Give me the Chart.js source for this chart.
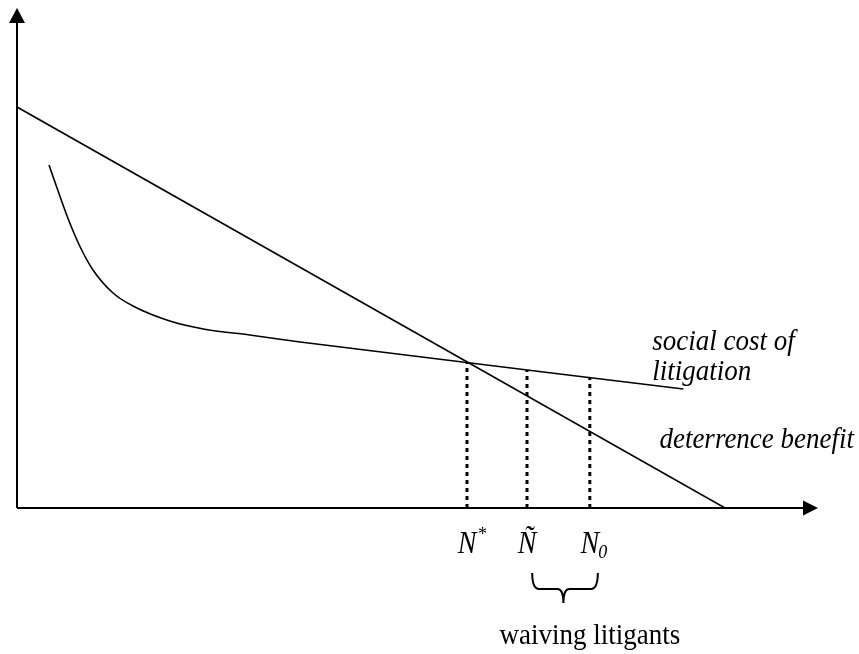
<!DOCTYPE html>
<html>
<head>
<meta charset="utf-8">
<script src="https://cdn.jsdelivr.net/npm/chart.js@4"></script>
<style>
    html, body { margin: 0; padding: 0; background: #fff; }
    #wrap { width: 859px; height: 654px; position: relative; }
</style>
</head>
<body>
<div id="wrap"><canvas id="litigation_chart"></canvas></div>
<script>
// deterrence benefit: straight line
var benefitX = [0, 88.5];
var benefitY = [80.2, 0];

// social cost of litigation: convex curve
var costX = [4.0, 5.4, 6.6, 7.9, 9.5, 12.0, 14.5, 19.1, 23.3, 29.1, 35.4, 83.3];
var costY = [68.6, 62.2, 57.0, 52.2, 47.6, 43.0, 40.4, 37.4, 35.8, 34.6, 33.2, 23.8];

// marked quantities on the horizontal axis
var markX = [56.25, 63.75, 71.6];
var markTop = [29.2, 27.6, 26.0];
var markName = ['N', 'Ñ', 'N'];
var markSup = ['*', '', ''];
var markSub = ['', '', '0'];

// text annotations
var costLabel = ['social cost of', 'litigation'];
var benefitLabel = 'deterrence benefit';
var braceLabel = 'waiving litigants';

function points(xs, ys) {
    var out = [];
    for (var i = 0; i < xs.length; i++) {
        out.push({x: xs[i], y: ys[i]});
    }
    return out;
}

var datasets = [{
    label: 'deterrence benefit',
    data: points(benefitX, benefitY),
    borderColor: '#000',
    borderWidth: 1.6,
    pointRadius: 0,
    showLine: true,
}, {
    label: 'social cost of litigation',
    data: points(costX, costY),
    borderColor: '#000',
    borderWidth: 1.6,
    pointRadius: 0,
    showLine: true,
    cubicInterpolationMode: 'monotone',
}];
for (var i = 0; i < markX.length; i++) {
    datasets.push({
        label: 'mark' + i,
        data: [{x: markX[i], y: 0}, {x: markX[i], y: markTop[i]}],
        borderColor: '#000',
        borderWidth: 3,
        borderDash: [4, 4],
        borderCapStyle: 'butt',
        pointRadius: 0,
        showLine: true,
    });
}

// text in the source is a little taller than Times at the same width
var TEXT_STRETCH = 1.1;
function tallText(ctx, str, x, y) {
    ctx.save();
    ctx.translate(x, y);
    ctx.scale(1, TEXT_STRETCH);
    ctx.fillText(str, 0, 0);
    ctx.restore();
}

var annotate = {
    id: 'annotate',
    afterDraw: function (chart) {
        var ctx = chart.ctx;
        var xs = chart.scales.x;
        var ys = chart.scales.y;
        var area = chart.chartArea;
        var ox = xs.getPixelForValue(0);
        var oy = ys.getPixelForValue(0);
        ctx.save();
        ctx.strokeStyle = '#000';
        ctx.fillStyle = '#000';

        // axes with arrow heads
        ctx.lineWidth = 2;
        ctx.beginPath();
        ctx.moveTo(ox, oy);
        ctx.lineTo(ox, area.top + 10);
        ctx.moveTo(ox, oy);
        ctx.lineTo(area.right - 10, oy);
        ctx.stroke();
        ctx.beginPath();
        ctx.moveTo(ox, area.top);
        ctx.lineTo(ox - 8, area.top + 15);
        ctx.lineTo(ox + 8, area.top + 15);
        ctx.closePath();
        ctx.fill();
        ctx.beginPath();
        ctx.moveTo(area.right + 1, oy);
        ctx.lineTo(area.right - 14, oy - 7.5);
        ctx.lineTo(area.right - 14, oy + 7.5);
        ctx.closePath();
        ctx.fill();

        // curve labels
        ctx.textBaseline = 'alphabetic';
        ctx.textAlign = 'left';
        ctx.font = 'italic 27px "Liberation Serif"';
        tallText(ctx, costLabel[0], xs.getPixelForValue(79.4), ys.getPixelForValue(31.6));
        tallText(ctx, costLabel[1], xs.getPixelForValue(79.4), ys.getPixelForValue(25.6));
        tallText(ctx, benefitLabel, xs.getPixelForValue(80.3), ys.getPixelForValue(12));

        // axis marks N*, Ñ, N0
        var base = ys.getPixelForValue(-8.9);
        for (var i = 0; i < markX.length; i++) {
            var cx = xs.getPixelForValue(markX[i]);
            ctx.font = 'italic 28px "Liberation Serif"';
            var w = ctx.measureText(markName[i]).width;
            var left = cx - w / 2;
            tallText(ctx, markName[i], left, base);
            ctx.font = 'italic 18px "Liberation Serif"';
            if (markSup[i]) {
                tallText(ctx, markSup[i], left + w + 1, base - 13);
            }
            if (markSub[i]) {
                tallText(ctx, markSub[i], left + w - 1, base + 5);
            }
        }

        // brace below Ñ .. N0
        var bl = xs.getPixelForValue(64.4);
        var br = xs.getPixelForValue(72.6);
        var bm = xs.getPixelForValue(68.3);
        var bt = ys.getPixelForValue(-13);
        var bh = ys.getPixelForValue(-16.2);
        var bp = ys.getPixelForValue(-19);
        ctx.lineWidth = 2;
        ctx.beginPath();
        ctx.moveTo(bl, bt);
        ctx.quadraticCurveTo(bl, bh, bl + 7, bh);
        ctx.lineTo(bm - 6, bh);
        ctx.quadraticCurveTo(bm, bh, bm, bp);
        ctx.quadraticCurveTo(bm, bh, bm + 6, bh);
        ctx.lineTo(br - 7, bh);
        ctx.quadraticCurveTo(br, bh, br, bt);
        ctx.stroke();

        ctx.font = '27px "Liberation Serif"';
        ctx.textAlign = 'center';
        tallText(ctx, braceLabel, xs.getPixelForValue(71.6), ys.getPixelForValue(-27.2));
        ctx.restore();
    }
};

var chart_ctx = document.getElementById('litigation_chart');
var myChart = new Chart(chart_ctx, {
    type: 'scatter',
    data: {datasets: datasets},
    options: {
        responsive: true,
        maintainAspectRatio: false,
        animation: false,
        layout: {padding: {left: 17, right: 42, top: 8, bottom: 146}},
        plugins: {
            legend: {display: false},
            tooltip: {enabled: false},
        },
        scales: {
            x: {type: 'linear', min: 0, max: 100, display: false},
            y: {type: 'linear', min: 0, max: 100, display: false},
        },
    },
    plugins: [annotate],
});
</script>
</body>
</html>
